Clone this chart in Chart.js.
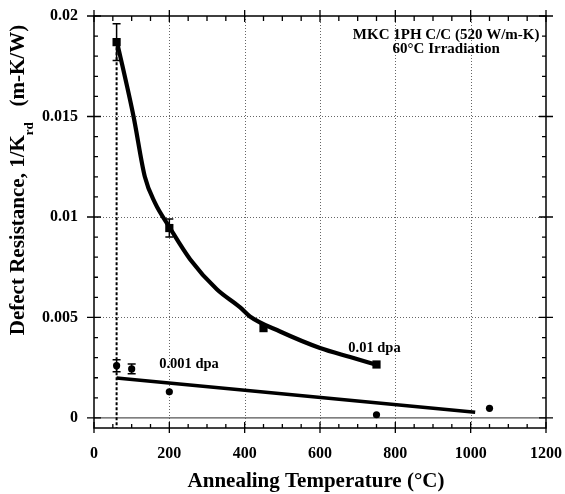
<!DOCTYPE html>
<html lang="en">
<head>
  <meta charset="UTF-8" />
  <title>Defect Resistance vs Annealing Temperature</title>
  <script src="https://cdn.jsdelivr.net/npm/chart.js"></script>
  <style>
    body { margin: 0; background: #fff; }
    #wrap { width: 565px; height: 494px; }
  </style>
</head>
<body>
  <div id="wrap"><canvas id="chart" width="565" height="494"></canvas></div>

  <script>
    // 0.01 dpa data (squares)
    const sqTemp = [60, 200, 450, 750];
    const sqVal = [0.0187, 0.00945, 0.00447, 0.00266];
    const sqErr = [0.00092, 0.00045, 0, 0];

    // 0.001 dpa data (circles)
    const ciTemp = [60, 100, 200, 750, 1050];
    const ciVal = [0.0026, 0.00244, 0.0013, 0.00016, 0.00048];
    const ciErr = [0.0003, 0.00024, 0, 0, 0];

    // fitted curves
    const fitHiTemp = [60, 105, 135, 162, 200, 255, 326, 388, 414, 494, 600, 680, 750];
    const fitHiVal = [0.0188, 0.0150, 0.0120, 0.0107, 0.0095, 0.0079, 0.0064, 0.0055, 0.00505, 0.0043, 0.00348, 0.00303, 0.00265];
    const fitLoTemp = [60, 1012];
    const fitLoVal = [0.00199, 0.00028];

    // irradiation temperature marker
    const irrTemp = [60, 60];
    const irrVal = [0.0187, -0.0005];

    const xTicks = [0, 200, 400, 600, 800, 1000, 1200];
    const xTickLabels = ['0', '200', '400', '600', '800', '1000', '1200'];
    const yTicks = [0, 0.005, 0.01, 0.015, 0.02];
    const yTickLabels = ['0', '0.005', '0.01', '0.015', '0.02'];

    const serif = "'Liberation Serif', 'DejaVu Serif', serif";

    const pts = (xs, ys, es) => xs.map((x, i) => ({ x: x, y: ys[i], e: es ? es[i] : 0 }));

    // frame, inward ticks, dotted grid, zero line, error bars, texts
    const decor = {
      id: 'decor',
      beforeDatasetsDraw(chart) {
        const { ctx, chartArea: a, scales: { x, y } } = chart;
        ctx.save();
        // dotted grid
        ctx.strokeStyle = '#666';
        ctx.lineWidth = 1;
        ctx.setLineDash([1, 2]);
        xTicks.slice(1, -1).forEach(v => {
          const px = Math.round(x.getPixelForValue(v)) + 0.5;
          ctx.beginPath(); ctx.moveTo(px, a.top); ctx.lineTo(px, a.bottom); ctx.stroke();
        });
        yTicks.slice(1, -1).forEach(v => {
          const py = Math.round(y.getPixelForValue(v)) + 0.5;
          ctx.beginPath(); ctx.moveTo(a.left, py); ctx.lineTo(a.right, py); ctx.stroke();
        });
        ctx.setLineDash([]);
        // zero line
        ctx.strokeStyle = '#555';
        ctx.lineWidth = 1.2;
        const y0 = y.getPixelForValue(0);
        ctx.beginPath(); ctx.moveTo(a.left, y0); ctx.lineTo(a.right, y0); ctx.stroke();
        ctx.restore();
      },
      afterDatasetsDraw(chart) {
        const { ctx, chartArea: a, scales: { x, y } } = chart;
        ctx.save();
        // error bars
        ctx.strokeStyle = '#000';
        ctx.lineWidth = 1.5;
        [0, 1].forEach(di => {
          chart.data.datasets[di].data.forEach(p => {
            if (!p.e) return;
            const px = x.getPixelForValue(p.x);
            const t = y.getPixelForValue(p.y + p.e), b = y.getPixelForValue(p.y - p.e);
            ctx.beginPath();
            ctx.moveTo(px, t); ctx.lineTo(px, b);
            ctx.moveTo(px - 4, t); ctx.lineTo(px + 4, t);
            ctx.moveTo(px - 4, b); ctx.lineTo(px + 4, b);
            ctx.stroke();
          });
        });
        // frame
        ctx.lineWidth = 1.5;
        ctx.strokeRect(a.left, a.top, a.right - a.left, a.bottom - a.top);
        // ticks
        ctx.lineWidth = 1.3;
        for (let v = 0; v <= 1200; v += 50) {
          const px = x.getPixelForValue(v);
          const major = v % 200 === 0;
          ctx.beginPath();
          if (major) {
            ctx.moveTo(px, a.bottom + 5); ctx.lineTo(px, a.bottom - 6);
            ctx.moveTo(px, a.top - 6); ctx.lineTo(px, a.top + 6);
          } else {
            ctx.moveTo(px, a.bottom); ctx.lineTo(px, a.bottom - 4);
            ctx.moveTo(px, a.top); ctx.lineTo(px, a.top + 5);
          }
          ctx.stroke();
        }
        for (let k = 0; k <= 20; k++) {
          const v = k * 0.001;
          const py = y.getPixelForValue(v);
          const major = k % 5 === 0;
          ctx.beginPath();
          if (major) {
            ctx.moveTo(a.left - 7, py); ctx.lineTo(a.left + 7, py);
            ctx.moveTo(a.right - 7, py); ctx.lineTo(a.right + 7, py);
          } else {
            ctx.moveTo(a.left, py); ctx.lineTo(a.left + 4, py);
            ctx.moveTo(a.right, py); ctx.lineTo(a.right - 4, py);
          }
          ctx.stroke();
        }
        // annotations
        ctx.fillStyle = '#000';
        ctx.font = 'bold 14.5px ' + serif;
        ctx.textAlign = 'left';
        ctx.fillText('0.01 dpa', x.getPixelForValue(675), y.getPixelForValue(0.0033));
        ctx.fillText('0.001 dpa', x.getPixelForValue(173), y.getPixelForValue(0.0025));
        ctx.font = 'bold 15px ' + serif;
        ctx.textAlign = 'center';
        ctx.fillText('MKC 1PH C/C (520 W/m-K)', x.getPixelForValue(935), y.getPixelForValue(0.01888));
        ctx.fillText('60\u00B0C Irradiation', x.getPixelForValue(935), y.getPixelForValue(0.01814));

        // axis titles
        ctx.font = 'bold 21px ' + serif;
        ctx.textAlign = 'center';
        ctx.fillText('Annealing Temperature (\u00B0C)', 316, 487);

        ctx.translate(24, 180);
        ctx.rotate(-Math.PI / 2);
        const p1 = 'Defect Resistance, 1/K';
        const p2 = 'rd';
        const p3 = '   (m-K/W)';
        const big = 'bold 21px ' + serif, small = 'bold 13px ' + serif;
        ctx.font = big; const w1 = ctx.measureText(p1).width, w3 = ctx.measureText(p3).width;
        ctx.font = small; const w2 = ctx.measureText(p2).width;
        let cx = -(w1 + w2 + w3) / 2;
        ctx.textAlign = 'left';
        ctx.font = big; ctx.fillText(p1, cx, 0); cx += w1;
        ctx.font = small; ctx.fillText(p2, cx, 9); cx += w2;
        ctx.font = big; ctx.fillText(p3, cx, 0);
        ctx.restore();
      }
    };

    const noPad = s => { s.paddingTop = 0; s.paddingBottom = 0; s.paddingLeft = 0; s.paddingRight = 0; };

    new Chart(document.getElementById('chart'), {
      type: 'scatter',
      data: {
        datasets: [
          { label: '0.01 dpa', data: pts(sqTemp, sqVal, sqErr), pointStyle: 'rect', pointRadius: 5.8, backgroundColor: '#000', borderColor: '#000', borderWidth: 0 },
          { label: '0.001 dpa', data: pts(ciTemp, ciVal, ciErr), pointStyle: 'circle', pointRadius: 3.6, backgroundColor: '#000', borderColor: '#000', borderWidth: 0 },
          { label: 'fit 0.01', data: pts(fitHiTemp, fitHiVal), showLine: true, pointRadius: 0, borderColor: '#000', borderWidth: 4.2, cubicInterpolationMode: 'monotone' },
          { label: 'fit 0.001', data: pts(fitLoTemp, fitLoVal), showLine: true, pointRadius: 0, borderColor: '#000', borderWidth: 3.5 },
          { label: 'irradiation', data: pts(irrTemp, irrVal), showLine: true, pointRadius: 0, borderColor: '#000', borderWidth: 2, borderDash: [3, 2] }
        ]
      },
      options: {
        responsive: false,
        animation: false,
        layout: { padding: { top: 16, right: 19, left: 0, bottom: 0 } },
        plugins: { legend: { display: false }, tooltip: { enabled: false } },
        scales: {
          x: {
            min: 0, max: 1200,
            grid: { display: false, drawTicks: false },
            border: { display: false },
            afterFit: s => { s.height = 66; noPad(s); },
            afterBuildTicks: s => { s.ticks = xTicks.map(v => ({ value: v })); },
            ticks: {
              padding: 16,
              color: '#000',
              font: { family: serif, size: 16, weight: 'bold' },
              maxRotation: 0,
              callback: (v, i) => xTickLabels[i]
            }
          },
          y: {
            min: -0.0005, max: 0.02,
            grid: { display: false, drawTicks: false },
            border: { display: false },
            afterFit: s => { s.width = 94; noPad(s); },
            afterBuildTicks: s => { s.ticks = yTicks.map(v => ({ value: v })); },
            ticks: {
              padding: 16,
              color: '#000',
              font: { family: serif, size: 16, weight: 'bold' },
              callback: (v, i) => yTickLabels[i]
            }
          }
        }
      },
      plugins: [decor]
    });
  </script>
</body>
</html>
